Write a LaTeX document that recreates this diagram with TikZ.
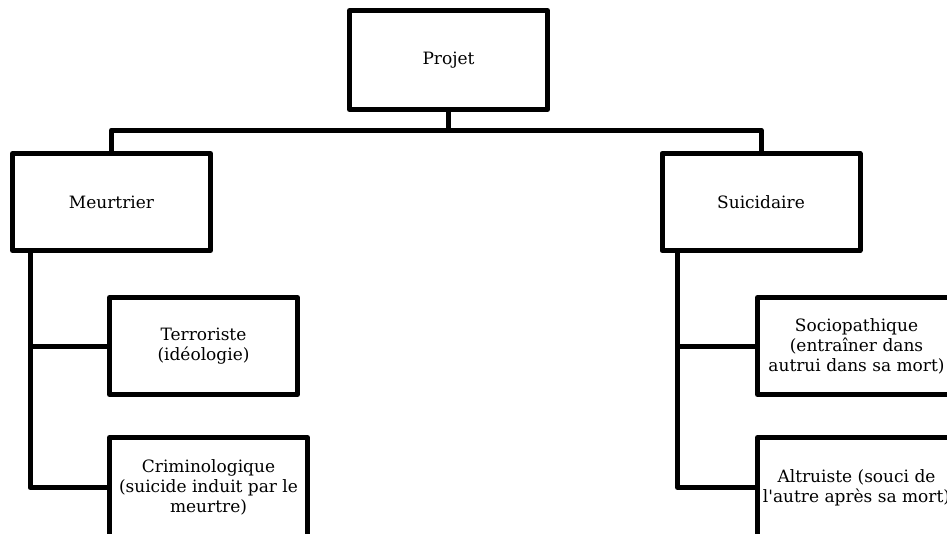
\documentclass[tikz,border=0pt]{standalone}
\usepackage{fontspec}
\setmainfont{DejaVu Serif}
\usetikzlibrary{positioning}

\begin{document}
\begin{tikzpicture}[
    x=1pt, y=-1pt,
    block/.style={rectangle, draw, line width=5pt, line join=round, minimum width=198pt, minimum height=97pt, align=center, inner sep=2pt, font=\fontsize{17}{20}\selectfont},
    link/.style={line width=5pt, line join=round}
]
\useasboundingbox (0,0) rectangle (947,533);
\clip (0,0) rectangle (947,533);

% Top level
\node [block, minimum height=99pt] (proj) at (448.5,60) {Projet};
\node [block] (meur) at (111.5,202) {Meurtrier};
\node [block] (suic) at (761,202) {Suicidaire};

% Second level
\node [block, minimum width=188pt] (terr) at (203.5,346) {Terroriste\\(idéologie)};
\node [block, minimum height=100pt] (crim) at (208.5,487.5) {Criminologique\\(suicide induit par le\\meurtre)};
\node [block] (soc) at (856.5,346) {Sociopathique\\(entraîner dans\\autrui dans sa mort)};
\node [block, minimum height=100pt] (altr) at (856.5,487.5) {Altruiste (souci de\\l\textquotesingle autre après sa mort)};

% Connectors
\draw [link] (proj.south) -- ++(0,18) -| (meur.north);
\draw [link] (proj.south) -- ++(0,18) -| (suic.north);
\draw [link] ([xshift=20pt]meur.south west) |- (terr.west);
\draw [link] ([xshift=20pt]meur.south west) |- (crim.west);
\draw [link] ([xshift=18pt]suic.south west) |- (soc.west);
\draw [link] ([xshift=18pt]suic.south west) |- (altr.west);

\end{tikzpicture}
\end{document}
